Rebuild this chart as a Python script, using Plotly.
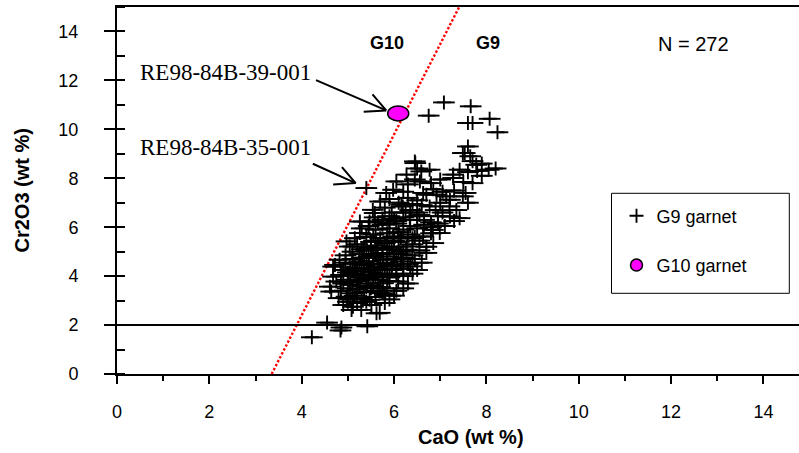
import plotly.graph_objects as go

# ---- data ----
g9_x = [4.22,
        4.55, 4.84, 4.86, 5.42,
        4.90, 5.08, 5.11, 5.29, 5.51, 5.62, 5.69, 5.20, 5.00, 5.40, 5.80,
        4.97, 5.47, 5.80, 4.80, 5.15, 5.30, 5.60, 5.90, 6.00, 5.05,
        4.64, 4.85, 5.00, 5.20, 5.35, 5.50, 5.65, 5.85, 6.05, 5.10, 5.75, 6.20,
        4.61, 4.75, 4.90, 5.05, 5.20, 5.26, 5.40, 5.55, 5.76, 5.90, 6.09, 6.30, 5.00, 5.65,
        4.68, 4.85, 5.00, 5.15, 5.30, 5.45, 5.60, 5.75, 5.90, 6.05, 6.20, 6.40, 5.50,
        4.72, 4.68, 4.90, 5.05, 5.20, 5.35, 5.50, 5.65, 5.80, 5.95, 6.05, 6.20, 6.35, 6.50, 5.10,
        4.82, 4.95, 5.10, 5.25, 5.40, 5.55, 5.76, 5.85, 6.00, 6.15, 6.30, 6.45, 6.60, 5.30, 5.70,
        4.95, 5.04, 5.10, 5.25, 5.40, 5.55, 5.62, 5.75, 5.90, 6.05, 6.20, 6.27, 6.40, 6.55, 6.70, 5.45,
        4.97, 5.20, 5.35, 5.50, 5.65, 5.80, 5.95, 6.10, 6.27, 6.40, 6.55, 6.70, 6.85, 5.60,
        5.26, 5.15, 5.40, 5.55, 5.70, 5.85, 5.98, 6.15, 6.30, 6.45, 6.63, 6.80, 6.99, 6.84, 6.10,
        5.30, 5.45, 5.60, 5.75, 5.90, 6.05, 6.20, 6.35, 6.50, 6.65, 6.80, 6.95, 7.10, 5.90,
        5.26, 5.47, 5.58, 5.75, 5.90, 6.05, 6.20, 6.34, 6.50, 6.65, 6.80, 6.95, 7.21, 7.42, 7.30,
        5.54, 5.58, 5.80, 5.95, 6.16, 6.19, 6.35, 6.50, 6.77, 6.90, 7.05, 7.20, 7.35, 6.60,
        5.70, 5.90, 6.10, 6.30, 6.50, 6.70, 6.92, 7.13, 7.21, 7.49, 7.60, 6.40, 7.00,
        5.40, 5.83, 5.98, 6.20, 6.63, 6.85, 7.05, 7.30, 7.55,
        6.05, 6.30, 6.56, 6.80, 7.28, 7.50, 7.70, 7.00, 6.45,
        6.27, 6.59, 6.77, 7.28, 7.42, 7.60, 7.80, 6.50, 7.90, 8.05,
        6.46, 6.45, 7.78, 7.53, 7.49, 7.60, 7.70, 7.65, 7.90, 8.20,
        6.75, 7.08, 7.66, 7.60, 7.70, 8.07, 8.24,
        5.05, 5.25, 5.45, 5.35, 5.55, 5.70, 5.15, 5.45, 5.60, 5.85, 5.95, 5.30, 5.50, 5.75,
        6.00, 5.85, 6.20, 5.20, 5.40, 5.00, 6.10, 5.70, 6.40, 6.00, 6.25, 5.65, 6.55, 5.85,
        5.30, 5.55, 6.15]
g9_y = [1.50,
        2.10, 1.78, 1.90, 1.95,
        2.82, 2.62, 2.75, 2.62, 2.82, 2.48, 2.50, 2.90, 2.95, 2.95, 2.90,
        3.16, 3.03, 3.23, 3.10, 3.20, 3.10, 3.15, 3.05, 3.20, 3.05,
        3.37, 3.40, 3.50, 3.45, 3.35, 3.50, 3.40, 3.50, 3.40, 3.30, 3.30, 3.50,
        3.57, 3.78, 3.70, 3.65, 3.80, 3.85, 3.70, 3.62, 3.71, 3.80, 3.78, 3.70, 3.85, 3.85,
        3.98, 4.05, 4.00, 4.10, 3.95, 4.05, 4.00, 4.10, 3.95, 4.10, 4.00, 4.10, 4.15,
        4.46, 4.39, 4.25, 4.35, 4.30, 4.45, 4.25, 4.40, 4.30, 4.45, 4.39, 4.30, 4.40, 4.25, 4.20,
        4.67, 4.55, 4.70, 4.60, 4.50, 4.75, 4.67, 4.55, 4.70, 4.60, 4.50, 4.70, 4.55, 4.75, 4.50,
        4.85, 5.21, 5.00, 4.90, 5.05, 4.85, 5.08, 4.95, 5.10, 4.90, 5.00, 5.08, 4.85, 5.05, 4.95, 4.80,
        5.42, 5.30, 5.20, 5.40, 5.25, 5.35, 5.20, 5.40, 5.21, 5.30, 5.45, 5.20, 5.35, 5.45,
        5.76, 5.55, 5.60, 5.70, 5.55, 5.75, 5.62, 5.55, 5.70, 5.60, 5.62, 5.75, 5.76, 5.89, 5.80,
        5.95, 6.05, 5.90, 6.10, 5.95, 6.15, 5.90, 6.05, 5.95, 6.10, 6.00, 6.15, 6.05, 6.15,
        6.23, 6.23, 6.40, 6.30, 6.45, 6.25, 6.40, 6.30, 6.45, 6.30, 6.20, 6.45, 6.44, 6.37, 6.25,
        6.71, 6.58, 6.80, 6.60, 6.92, 6.85, 6.70, 6.60, 6.85, 6.70, 6.60, 6.85, 6.70, 6.90,
        7.05, 7.15, 7.00, 7.20, 7.10, 7.33, 7.33, 7.26, 7.12, 7.26, 7.00, 6.95, 7.00,
        7.60, 7.40, 7.53, 7.45, 7.40, 7.55, 7.45, 7.50, 7.40,
        7.87, 7.75, 7.87, 7.80, 8.01, 7.85, 7.80, 7.95, 7.95,
        8.15, 8.28, 8.35, 8.15, 8.35, 8.25, 8.30, 8.40, 8.10, 8.35,
        8.62, 8.69, 8.55, 9.03, 9.03, 9.30, 8.70, 8.90, 8.60, 8.40,
        10.56, 11.10, 10.94, 10.26, 10.26, 10.43, 9.88,
        3.75, 3.60, 3.90, 4.20, 4.35, 4.25, 4.50, 4.60, 4.90, 4.80, 4.25, 5.10, 5.15, 5.15,
        5.45, 5.55, 4.75, 4.05, 3.55, 4.15, 5.05, 3.55, 5.55, 6.35, 6.60, 6.20, 6.50, 4.05,
        4.55, 3.95, 4.90]
g10_x = [6.09]
g10_y = [10.65]

# G10 / G9 discrimination line and Cr2O3 threshold
div_x = [3.35, 7.41]
div_y = [0.0, 15.0]
cr_threshold = 2.0

x_range = [0, 14.77]
y_range = [0, 15]
x_ticks = [0, 2, 4, 6, 8, 10, 12, 14]
y_ticks = [0, 2, 4, 6, 8, 10, 12, 14]

label_39 = "RE98-84B-39-001"
label_35 = "RE98-84B-35-001"
pt35_x, pt35_y = 5.40, 7.60

SANS = "Liberation Sans, Arial, sans-serif"
SERIF = "Liberation Serif, Times New Roman, serif"

# plot-area geometry in pixels (for paper-coordinate helpers)
L, R, T, B = 117, 799, 7, 374
def px(xp):
    return (xp - L) / (R - L)
def py(yp):
    return (B - yp) / (B - T)

fig = go.Figure()

fig.add_trace(go.Scatter(
    x=div_x, y=div_y, mode="lines", showlegend=False, hoverinfo="skip",
    line=dict(color="#ff0000", width=2.4, dash="2.4px,2px")))

# horizontal arm (wider) of the G9 crosses
fig.add_trace(go.Scatter(
    x=g9_x, y=g9_y, mode="markers", showlegend=False, hoverinfo="skip",
    marker=dict(symbol="line-ew", size=15.5, color="black",
                line=dict(color="black", width=1.9))))
fig.add_trace(go.Scatter(
    x=g9_x, y=g9_y, mode="markers", name="G9 garnet", legendgroup="a",
    marker=dict(symbol="cross-thin", size=10, color="black",
                line=dict(color="black", width=1.9))))
fig.add_trace(go.Scatter(
    x=g10_x, y=g10_y, mode="markers", name="G10 garnet", legendgroup="b",
    marker=dict(symbol="circle", size=12, color="#ff00ff",
                line=dict(color="black", width=1.5))))

shapes = [
    dict(type="line", xref="paper", x0=0, x1=1, yref="y", y0=cr_threshold, y1=cr_threshold,
         line=dict(color="black", width=2)),
    dict(type="circle", xref="x", yref="y", xsizemode="pixel", ysizemode="pixel",
         xanchor=g10_x[0], yanchor=g10_y[0], x0=-10.5, x1=10.5, y0=-7.5, y1=7.5,
         fillcolor="#ff00ff", line=dict(color="black", width=1.5), layer="above"),
    # legend frame
    dict(type="rect", xref="paper", yref="paper",
         x0=px(611.5), x1=px(789.3), y0=py(293.3), y1=py(193.3),
         line=dict(color="black", width=1), fillcolor="rgba(0,0,0,0)", layer="above"),
]


def arrow(xt, yt, sx, sy, tail, barb1, barb2):
    """Open-headed arrow whose tip sits (sx, sy) px from the data point (xt, yt)."""
    out = []
    for (ax, ay) in (tail, barb1, barb2):
        out.append(dict(x=xt, y=yt, xref="x", yref="y", text="", showarrow=True,
                        xshift=sx, yshift=-sy, ax=ax, ay=ay,
                        arrowhead=0, arrowwidth=2, arrowcolor="black"))
    return out


annotations = []
annotations += arrow(g10_x[0], g10_y[0], -12, -3, (-71.7, -31), (-15, -17.5), (-24, 1.5))
annotations += arrow(pt35_x, pt35_y, -10.7, -5, (-44.3, -20), (-15, -17.5), (-24, 1.5))
annotations += [
    dict(x=0.45, y=12.32, xref="x", yref="y", text=label_39, showarrow=False,
         xanchor="left", yanchor="middle", font=dict(family=SERIF, size=23, color="black")),
    dict(x=0.45, y=9.25, xref="x", yref="y", text=label_35, showarrow=False,
         xanchor="left", yanchor="middle", font=dict(family=SERIF, size=23, color="black")),
    dict(x=5.85, y=13.52, xref="x", yref="y", text="<b>G10</b>", showarrow=False,
         font=dict(family=SANS, size=18, color="black")),
    dict(x=8.04, y=13.52, xref="x", yref="y", text="<b>G9</b>", showarrow=False,
         font=dict(family=SANS, size=18, color="black")),
    dict(x=12.49, y=13.5, xref="x", yref="y", text="N = 272", showarrow=False,
         font=dict(family=SANS, size=20, color="black")),
    dict(x=px(471), y=py(437), xref="paper", yref="paper",
         text="<b>CaO (wt %)</b>", showarrow=False, xanchor="center", yanchor="middle",
         font=dict(family=SANS, size=20, color="black")),
    dict(x=px(21), y=0.5, xref="paper", yref="paper",
         text="<b>Cr2O3 (wt %)</b>", showarrow=False, textangle=-90,
         xanchor="center", yanchor="middle",
         font=dict(family=SANS, size=20, color="black")),
]

fig.update_layout(
    width=799, height=453,
    margin=dict(l=L, r=0, t=T, b=453 - B),
    paper_bgcolor="white", plot_bgcolor="white",
    font=dict(family=SANS, size=18, color="black"),
    shapes=shapes, annotations=annotations,
    legend=dict(x=px(616.5), y=py(197.5), xanchor="left", yanchor="top",
                bgcolor="rgba(0,0,0,0)", borderwidth=0,
                font=dict(family=SANS, size=18, color="black"),
                traceorder="grouped", tracegroupgap=23, itemwidth=30),
)
fig.update_xaxes(
    range=x_range, tickvals=x_ticks, showgrid=False, zeroline=False,
    showline=True, linecolor="black", linewidth=2, mirror=True,
    ticks="outside", ticklen=8, tickwidth=1.5, tickcolor="black",
    ticklabelstandoff=12,
    minor=dict(dtick=1, ticks="outside", ticklen=5, tickwidth=1.5, tickcolor="black"),
    tickfont=dict(family=SANS, size=18, color="black"))
fig.update_yaxes(
    range=y_range, tickvals=y_ticks, showgrid=False, zeroline=False,
    showline=True, linecolor="black", linewidth=2,
    ticks="outside", ticklen=11, tickwidth=1.5, tickcolor="black",
    ticklabelstandoff=22,
    minor=dict(dtick=1, ticks="inside", ticklen=8, tickwidth=1.5, tickcolor="black"),
    tickfont=dict(family=SANS, size=18, color="black"))

fig.write_html("out.html")
